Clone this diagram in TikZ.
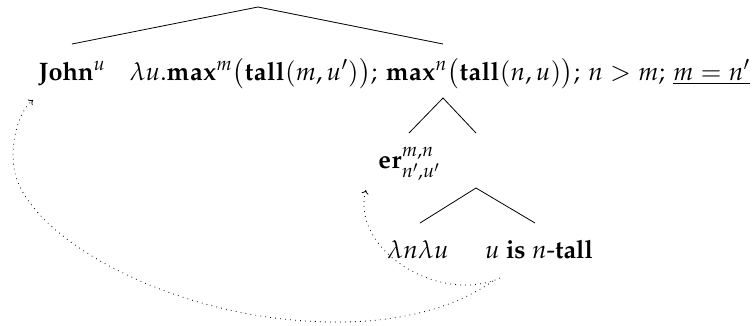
\documentclass[tikz,border=0pt]{standalone}
\usepackage[T1]{fontenc}
\usepackage{mathpazo}
\usetikzlibrary{arrows.meta}
\begin{document}
\begin{tikzpicture}[x=1pt,y=-1pt,
  lab/.style={inner sep=0pt, outer sep=0pt, font=\fontsize{25.3}{30}\selectfont},
  leg/.style={line width=0.8pt},
  link/.style={line width=0.8pt, dash pattern=on 0.8pt off 4.2pt, -{To[length=4pt,width=7pt]}}]
\useasboundingbox (0,0) rectangle (753,325);
% labels
\node[lab, anchor=base] (john) at (72,80) {\textbf{John}$^u$};
\node[lab, anchor=base east] (form) at (750,80) {$\lambda u.\mathbf{max}^m\big(\mathbf{tall}(m,u')\big);\,\mathbf{max}^n\big(\mathbf{tall}(n,u)\big);\,n>m;\,\underline{m=n'}$};
\node[lab, anchor=base] (er) at (409,168) {$\mathbf{er}^{m,n}_{n',u'}$};
\node[lab, anchor=base] (lam) at (418,258) {$\lambda n\lambda u$};
\node[lab, anchor=base west] (tall) at (485,258) {$u$ \textbf{is} $n$-\textbf{tall}};
% tree apexes and leg ends
\coordinate (r0) at (258,7);
\coordinate (e0a) at (72,44);
\coordinate (e0b) at (443,44);
\coordinate (r1) at (443,98);
\coordinate (e1a) at (409,133);
\coordinate (e1b) at (476,133);
\coordinate (r2) at (476,188);
\coordinate (e2a) at (420,223);
\coordinate (e2b) at (535,223);
\draw[leg] (e0a) -- (r0) -- (e0b);
\draw[leg] (e1a) -- (r1) -- (e1b);
\draw[leg] (e2a) -- (r2) -- (e2b);
% binding arrows
\coordinate (s1) at (500,278);
\coordinate (t1) at (366,190);
\coordinate (s2) at (493,281);
\coordinate (m2) at (267,317);
\coordinate (n2) at (17,180);
\coordinate (t2) at (33,100);
\draw[link] (s1) .. controls (440,305) and (350,250) .. (t1);
\draw[link] (s2) .. controls (440,318) and (360,330) .. (m2) .. controls (150,300) and (40,240) .. (n2) .. controls (8,155) and (15,115) .. (t2);
\end{tikzpicture}
\end{document}
